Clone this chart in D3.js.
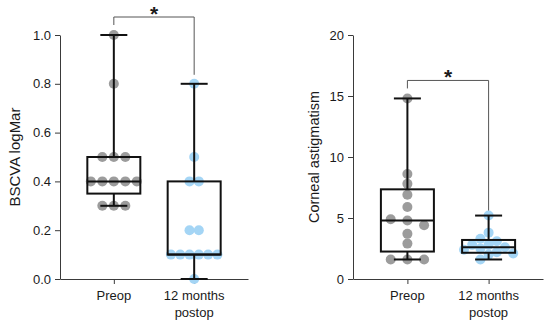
<!DOCTYPE html>
<html>
<head>
<meta charset="utf-8">
<script src="https://cdn.jsdelivr.net/npm/d3@7/dist/d3.min.js"></script>
<style>
  body { margin: 0; background: #fff; }
  svg { display: block; }
  text { font-family: "Liberation Sans", Arial, Helvetica, sans-serif; fill: #1a1a1a; }
</style>
</head>
<body>
<svg id="chart" width="550" height="323"></svg>
<script>
// categories
const groups = ["Preop", "12 months postop"];
const groupLines = [["Preop"], ["12 months", "postop"]];

// BSCVA logMar, one value per eye
const bscvaPreop = [1.0, 0.8, 0.5, 0.5, 0.5, 0.4, 0.4, 0.4, 0.4, 0.4, 0.3, 0.3, 0.3];
const bscvaPostop = [0.8, 0.5, 0.4, 0.4, 0.2, 0.2, 0.1, 0.1, 0.1, 0.1, 0.1, 0.1, 0.0];
const bscvaTicks = [0, 0.2, 0.4, 0.6, 0.8, 1.0];

// corneal astigmatism
const astigPreop = [14.8, 8.6, 7.8, 6.9, 5.9, 4.8, 4.9, 4.4, 3.7, 2.9, 1.6, 1.6, 1.6];
const astigPostop = [5.2, 3.8, 3.3, 3.1, 2.8, 2.8, 2.6, 2.5, 2.4, 2.2, 2.1, 2.0, 1.6];
const astigTicks = [0, 5, 10, 15, 20];

const svg = d3.select("#chart");
const axisColor = "#3a3a3a";
const dotColors = ["#9c9c9c", "#a4d5f5"];

// quartiles the (n+1) way, like Prism
function quart(sorted, p) {
  const n = sorted.length;
  const pos = p * (n + 1);
  const lo = Math.floor(pos), frac = pos - lo;
  if (lo < 1) return sorted[0];
  if (lo >= n) return sorted[n - 1];
  return sorted[lo - 1] + frac * (sorted[lo] - sorted[lo - 1]);
}

// simple grid beeswarm: slots 0, -1, 1, -2, 2 ... then centre each clump
function swarm(values, y, step, d) {
  const slots = [0, -1, 1, -2, 2, -3, 3, -4, 4];
  const placed = [];
  values.forEach(v => {
    const py = y(v);
    for (const k of slots) {
      if (!placed.some(p => p.k === k && Math.abs(p.py - py) < d)) {
        placed.push({ v, py, k });
        break;
      }
    }
  });
  // connected clumps
  const comp = placed.map((_, i) => i);
  const find = i => comp[i] === i ? i : (comp[i] = find(comp[i]));
  placed.forEach((a, i) => placed.forEach((b, j) => {
    if (i < j && Math.abs(a.py - b.py) < d) comp[find(i)] = find(j);
  }));
  const clumps = d3.group(placed.map((p, i) => i), i => find(i));
  clumps.forEach(idx => {
    const m = Math.round(d3.mean(idx, i => placed[i].k) * 2) / 2;
    idx.forEach(i => placed[i].k -= m);
  });
  return placed.map(p => ({ v: p.v, py: p.py, dx: p.k * step }));
}

function drawPanel(cfg) {
  const g = svg.append("g");
  const x = d3.scalePoint().domain(groups).range([cfg.x0, cfg.x1]).padding(0.67);
  const y = d3.scaleLinear().domain([0, cfg.max]).range([279, 35]);

  // y axis
  const ya = g.append("g")
    .attr("transform", `translate(${cfg.x0},0)`)
    .call(d3.axisLeft(y).tickValues(cfg.ticks).tickFormat(cfg.fmt)
      .tickSize(5).tickSizeOuter(0).tickPadding(4));
  ya.selectAll("path, line").attr("stroke", axisColor);
  ya.selectAll("text").attr("font-size", 13).attr("fill", "#1a1a1a")
    .attr("font-family", '"Liberation Sans", Arial, sans-serif');

  // x axis
  const xa = g.append("g")
    .attr("transform", "translate(0,279)")
    .call(d3.axisBottom(x).tickSize(5).tickSizeOuter(0).tickFormat(""));
  xa.selectAll("path, line").attr("stroke", axisColor);

  groups.forEach((grp, i) => {
    const t = g.append("text")
      .attr("text-anchor", "middle")
      .attr("font-size", 13);
    groupLines[i].forEach((line, j) => {
      t.append("tspan").attr("x", x(grp)).attr("y", 300 + j * 17).text(line);
    });
  });

  // axis title
  g.append("text")
    .attr("transform", `translate(${cfg.titleX},${(y(0) + y(cfg.max)) / 2}) rotate(-90)`)
    .attr("text-anchor", "middle")
    .attr("font-size", cfg.titleSize)
    .text(cfg.title);

  // dots first, box drawn over them
  cfg.series.forEach((vals, i) => {
    const cx = x(groups[i]);
    const pts = swarm(vals, y, cfg.steps[i], 9);
    g.append("g").selectAll("circle")
      .data(pts)
      .join("circle")
      .attr("cx", d => cx + d.dx)
      .attr("cy", d => y(d.v))
      .attr("r", 5)
      .attr("fill", dotColors[i]);
  });

  const tops = [];
  cfg.series.forEach((vals, i) => {
    const s = vals.slice().sort(d3.ascending);
    const q1 = quart(s, 0.25), med = quart(s, 0.5), q3 = quart(s, 0.75);
    const lo = s[0], hi = s[s.length - 1];
    const cx = x(groups[i]);
    const bw = 26.5, cw = 13.5;
    const bg = g.append("g").attr("stroke", "#111").attr("stroke-width", 2).attr("fill", "none");
    bg.append("line").attr("x1", cx).attr("x2", cx).attr("y1", y(hi)).attr("y2", y(q3));
    bg.append("line").attr("x1", cx).attr("x2", cx).attr("y1", y(q1)).attr("y2", y(lo));
    bg.append("line").attr("x1", cx - cw).attr("x2", cx + cw).attr("y1", y(hi)).attr("y2", y(hi));
    bg.append("line").attr("x1", cx - cw).attr("x2", cx + cw).attr("y1", y(lo)).attr("y2", y(lo));
    bg.append("rect").attr("x", cx - bw).attr("y", y(q3))
      .attr("width", bw * 2).attr("height", y(q1) - y(q3));
    bg.append("line").attr("x1", cx - bw).attr("x2", cx + bw).attr("y1", y(med)).attr("y2", y(med));
    tops.push(y(hi));
  });

  // significance bracket
  const legEnd = tops.map((t, i) => t - cfg.gaps[i]);
  const barY = Math.min(...legEnd) - 8;
  const xa0 = x(groups[0]), xa1 = x(groups[1]);
  g.append("path")
    .attr("d", `M${xa0},${legEnd[0]}V${barY}H${xa1}V${legEnd[1]}`)
    .attr("fill", "none").attr("stroke", "#555").attr("stroke-width", 1);
  g.append("text")
    .attr("x", (xa0 + xa1) / 2).attr("y", barY + 4)
    .attr("text-anchor", "middle")
    .attr("font-size", 21).attr("font-weight", "bold")
    .text("*");
}

drawPanel({
  x0: 60, x1: 248, max: 1.0, ticks: bscvaTicks, fmt: d3.format(".1f"),
  title: "BSCVA logMar", titleX: 20, titleSize: 15,
  series: [bscvaPreop, bscvaPostop], steps: [11.5, 9.3], gaps: [10, 9]
});

drawPanel({
  x0: 353, x1: 543, max: 20, ticks: astigTicks, fmt: d3.format("d"),
  title: "Corneal astigmatism", titleX: 319, titleSize: 14.5,
  series: [astigPreop, astigPostop], steps: [16.7, 8.2], gaps: [10, 5]
});
</script>
</body>
</html>
